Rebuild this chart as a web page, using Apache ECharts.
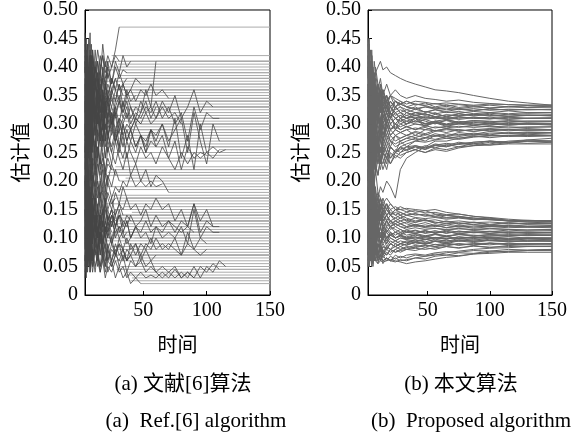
<!DOCTYPE html>
<html>
<head>
<meta charset="utf-8">
<script src="https://cdn.jsdelivr.net/npm/echarts@6/dist/echarts.min.js"></script>
<style>
  html, body { margin: 0; padding: 0; background: #fff; }
  #chart { width: 579px; height: 441px; }
</style>
</head>
<body>
<div id="chart"></div>
<script>
// ---- data ----
var xTicks = [50, 100, 150];

// (a) time grid for the noisy part of each run; after its last value a run stays flat to t=150
var tA = [4,5,6,7,8,9,10,12,14,16,18,20,22,25,28,31,34,37,40,44,48,52,56,60,65,70,75,80,85,90,95,100,105,110,115];

var upperA = [
  [0.38,0.30,0.41,0.33,0.43,0.35,0.39,0.31,0.36,0.40,0.34,0.37,0.35,0.38,0.36],
  [0.25,0.33,0.28,0.36,0.30,0.26,0.34,0.29,0.32,0.27,0.31,0.29,0.33,0.30,0.32,0.29,0.31],
  [0.42,0.35,0.44,0.37,0.32,0.40,0.36,0.43,0.38,0.34,0.39,0.36,0.41,0.37,0.40,0.38,0.395,0.39],
  [0.22,0.30,0.25,0.33,0.27,0.35,0.29,0.24,0.31,0.28,0.34,0.30,0.27,0.32,0.29,0.31,0.28,0.30,0.29,0.31,0.30],
  [0.35,0.28,0.40,0.31,0.37,0.26,0.33,0.38,0.30,0.35,0.29,0.33,0.31,0.36],
  [0.45,0.38,0.42,0.34,0.40,0.44,0.37,0.41,0.35,0.39,0.42,0.38,0.40,0.37,0.41,0.39,0.42,0.40,0.41],
  [0.28,0.36,0.24,0.32,0.27,0.38,0.30,0.26,0.33,0.29,0.35,0.27,0.31,0.28,0.32,0.26,0.30,0.27,0.29,0.26,0.28,0.25,0.27,0.26],
  [0.33,0.41,0.29,0.37,0.31,0.39,0.34,0.28,0.36,0.32,0.38,0.33,0.35,0.31,0.34,0.37,0.33,0.36,0.34,0.35],
  [0.40,0.32,0.36,0.28,0.42,0.34,0.30,0.37,0.33,0.29,0.35,0.31,0.34,0.30,0.33],
  [0.20,0.27,0.23,0.31,0.26,0.22,0.29,0.25,0.32,0.27,0.30,0.24,0.28,0.26,0.29,0.25,0.28,0.24,0.27,0.25,0.28,0.26,0.29,0.27,0.30,0.26,0.31,0.24,0.28,0.22,0.30,0.25,0.26,0.25,0.255],
  [0.37,0.29,0.34,0.40,0.32,0.27,0.35,0.31,0.38,0.33,0.29,0.34,0.31,0.35,0.32,0.34,0.31,0.33,0.30,0.32,0.31,0.33,0.32,0.34,0.31,0.33,0.30,0.32,0.27,0.33,0.29,0.32,0.31,0.31],
  [0.31,0.23,0.28,0.34,0.26,0.30,0.22,0.27,0.24,0.29,0.25,0.21,0.26,0.23,0.27,0.24,0.22,0.25,0.21,0.23,0.20,0.22,0.19,0.21,0.20,0.18],
  [0.43,0.36,0.40,0.45,0.38,0.42,0.35,0.40,0.37,0.42,0.39,0.41,0.38,0.40,0.42,0.41],
  [0.26,0.34,0.30,0.37,0.28,0.33,0.38,0.30,0.35,0.31,0.36,0.32,0.34,0.30,0.33,0.35,0.32,0.34,0.31,0.33,0.32,0.36,0.33,0.41],
  [0.34,0.26,0.31,0.24,0.36,0.29,0.25,0.32,0.28,0.23,0.30,0.26,0.29,0.25,0.28,0.26,0.30,0.27,0.29,0.26,0.28,0.27,0.29,0.28,0.30,0.27,0.29,0.31,0.25,0.32,0.27,0.23,0.30,0.27],
  [0.39,0.45,0.36,0.41,0.46,0.39,0.43,0.37,0.41,0.38,0.44,0.40,0.42,0.40,0.43,0.47],
  [0.24,0.31,0.21,0.28,0.25,0.33,0.27,0.22,0.29,0.26,0.31,0.28,0.25,0.29,0.27,0.30,0.28],
  [0.36,0.30,0.38,0.33,0.29,0.35,0.40,0.34,0.37,0.32,0.36,0.34,0.37,0.35,0.38,0.36,0.37,0.35,0.36,0.38,0.37],
  [0.29,0.37,0.33,0.27,0.35,0.31,0.36,0.28,0.34,0.30,0.27,0.33,0.29,0.32,0.28,0.31,0.30,0.32,0.29,0.31,0.30,0.32,0.30,0.31,0.33,0.31,0.32,0.30],
  [0.41,0.34,0.38,0.32,0.39,0.35,0.31,0.37,0.34,0.38,0.35,0.33,0.36,0.34],
  [0.23,0.29,0.26,0.20,0.27,0.24,0.30,0.22,0.26,0.23,0.28,0.24,0.27,0.25,0.23,0.26,0.24,0.27,0.25,0.23,0.26,0.24,0.25,0.23,0.26,0.24,0.22,0.25,0.23,0.25,0.24,0.25,0.24,0.255],
  [0.32,0.39,0.35,0.30,0.37,0.42,0.36,0.33,0.39,0.35,0.40,0.37,0.34,0.38,0.36,0.39,0.37,0.38],
  [0.21,0.16,0.24,0.19,0.14,0.22,0.18,0.25,0.20,0.17,0.23,0.19,0.21],
  [0.18,0.25,0.20,0.27,0.22,0.18,0.24,0.21,0.26,0.22,0.24,0.21,0.23,0.22],
  [0.19,0.24,0.17,0.22,0.26,0.20,0.23,0.18,0.21,0.24,0.19,0.22,0.20,0.23,0.21],
  [0.23,0.18,0.21,0.15,0.20,0.24,0.19,0.22,0.17,0.20,0.18,0.21,0.19],
  [0.16,0.21,0.25,0.19,0.23,0.17,0.21,0.19,0.24,0.20,0.22,0.18,0.21,0.19,0.22,0.20],
  [0.26,0.20,0.23,0.18,0.22,0.27,0.21,0.19,0.23,0.21,0.25,0.22,0.24,0.22],
  [0.44,0.36,0.31,0.39,0.34,0.41,0.33,0.38,0.30,0.35,0.32,0.37,0.34],
  [0.27,0.35,0.41,0.32,0.38,0.29,0.36,0.40,0.33,0.37,0.31,0.35,0.33,0.36,0.34,0.37,0.35],
  [0.33,0.25,0.30,0.37,0.28,0.34,0.26,0.31,0.36,0.29,0.33,0.27,0.32,0.29,0.33,0.30,0.34,0.31,0.33,0.30,0.32,0.34,0.31,0.33],
  [0.39,0.43,0.35,0.40,0.33,0.37,0.42,0.36,0.39,0.34,0.38,0.35,0.39,0.36,0.38],
  [0.30,0.24,0.35,0.27,0.32,0.25,0.29,0.34,0.27,0.31,0.26,0.30,0.28,0.31,0.27,0.29,0.26,0.29,0.27,0.30,0.28,0.25,0.29,0.26,0.28,0.24,0.27,0.22,0.26,0.24,0.25,0.245],
  [0.36,0.42,0.38,0.33,0.40,0.35,0.43,0.37,0.41,0.36,0.39,0.37,0.40],
  [0.25,0.31,0.22,0.29,0.34,0.26,0.32,0.28,0.24,0.30,0.27,0.32,0.28,0.30,0.27,0.29],
  [0.41,0.35,0.39,0.30,0.36,0.33,0.38,0.32,0.35,0.30,0.34,0.32,0.35,0.33,0.36,0.34,0.37,0.35,0.36,0.34,0.36,0.35,0.37,0.35,0.36,0.345],
  [0.31,0.38,0.34,0.29,0.36,0.32,0.27,0.33,0.30,0.35,0.31,0.34,0.30,0.33,0.31,0.34,0.32,0.35,0.33,0.31,0.34,0.32,0.33,0.31,0.34,0.32,0.35,0.31,0.33,0.36,0.32,0.34,0.33],
  [0.46,0.40,0.44,0.38,0.42,0.37,0.41,0.39,0.43,0.40,0.42,0.39,0.41]
];

var lowerA = [
  [0.10,0.16,0.08,0.13,0.06,0.12,0.09,0.15,0.11,0.07,0.13,0.10,0.12,0.09,0.11],
  [0.14,0.07,0.18,0.11,0.15,0.09,0.13,0.17,0.10,0.14,0.12,0.16,0.13,0.15,0.12,0.14,0.13],
  [0.05,0.12,0.07,0.10,0.04,0.09,0.06,0.11,0.07,0.05,0.09,0.06,0.08,0.05,0.07,0.06,0.08,0.06,0.07],
  [0.18,0.12,0.20,0.14,0.17,0.11,0.16,0.19,0.13,0.17,0.14,0.18,0.15,0.17,0.14,0.16,0.15,0.17,0.15,0.16,0.14,0.16,0.15,0.17,0.15,0.16,0.13,0.15,0.12,0.16,0.13,0.15,0.12,0.12],
  [0.08,0.14,0.05,0.11,0.08,0.13,0.06,0.10,0.07,0.12,0.08,0.05,0.09,0.06,0.08,0.05,0.07,0.04,0.06,0.05,0.07,0.05,0.06,0.04,0.05,0.04,0.05,0.03,0.04,0.03,0.05,0.04,0.055,0.045],
  [0.12,0.06,0.15,0.09,0.13,0.17,0.10,0.14,0.08,0.12,0.09,0.13,0.11,0.14,0.10,0.12,0.11,0.13,0.10,0.12,0.11,0.13,0.11,0.12,0.11,0.13,0.12,0.11,0.12,0.11],
  [0.16,0.10,0.13,0.19,0.12,0.16,0.09,0.14,0.11,0.15,0.12,0.10,0.13,0.11],
  [0.07,0.03,0.09,0.05,0.11,0.06,0.04,0.08,0.05,0.10,0.06,0.08,0.04,0.06,0.03,0.05,0.03,0.04,0.02,0.03,0.02],
  [0.11,0.18,0.13,0.09,0.16,0.12,0.19,0.14,0.10,0.15,0.12,0.17,0.13,0.15,0.12,0.14,0.11,0.13,0.10,0.12],
  [0.20,0.14,0.17,0.22,0.15,0.19,0.13,0.18,0.15,0.20,0.16,0.19,0.17,0.15,0.18,0.16,0.19,0.17],
  [0.09,0.15,0.11,0.06,0.13,0.08,0.12,0.07,0.10,0.13,0.09,0.11,0.08,0.10,0.07,0.09,0.08,0.10,0.08,0.09,0.07,0.09,0.08,0.10,0.08,0.09,0.08,0.07,0.09,0.08,0.07,0.08],
  [0.13,0.08,0.11,0.16,0.10,0.07,0.12,0.09,0.14,0.11,0.08,0.12,0.10,0.13,0.11,0.12,0.10,0.11],
  [0.06,0.10,0.04,0.08,0.12,0.07,0.05,0.09,0.06,0.04,0.07,0.05,0.08,0.06,0.09,0.07,0.08,0.06,0.07,0.05,0.06,0.04,0.05,0.04,0.03,0.04,0.03,0.04,0.03,0.05,0.03,0.05,0.04,0.06,0.05],
  [0.17,0.21,0.15,0.19,0.14,0.18,0.21,0.16,0.19,0.15,0.18,0.16,0.20,0.17,0.19,0.18,0.20,0.19,0.21,0.19,0.20,0.19,0.20,0.19,0.195],
  [0.10,0.05,0.13,0.08,0.11,0.06,0.14,0.09,0.12,0.07,0.10,0.08,0.11,0.09,0.12,0.10,0.11,0.09,0.10,0.12,0.10,0.11,0.09,0.12,0.10,0.11,0.10,0.12,0.09,0.15,0.10,0.12,0.11,0.11],
  [0.15,0.09,0.12,0.07,0.14,0.10,0.16,0.11,0.13,0.09,0.14,0.11,0.13,0.10,0.12,0.14],
  [0.04,0.08,0.06,0.11,0.05,0.09,0.07,0.04,0.08,0.05,0.07,0.04,0.06,0.05,0.07],
  [0.19,0.13,0.16,0.11,0.18,0.14,0.17,0.12,0.15,0.18,0.14,0.16,0.13,0.15,0.14,0.16,0.14],
  [0.13,0.19,0.10,0.16,0.12,0.08,0.14,0.11,0.16,0.12,0.15,0.11,0.14,0.12,0.15],
  [0.06,0.11,0.08,0.13,0.05,0.10,0.07,0.12,0.08,0.11,0.07,0.09,0.06,0.08,0.07,0.09,0.06,0.08,0.07,0.09,0.06,0.08,0.06,0.07],
  [0.17,0.11,0.15,0.09,0.13,0.18,0.12,0.16,0.10,0.14,0.11,0.15,0.12,0.14,0.13],
  [0.09,0.04,0.07,0.12,0.06,0.10,0.05,0.09,0.06,0.11,0.07,0.10,0.06,0.09,0.07,0.10,0.08,0.06,0.09,0.07,0.09,0.08,0.10,0.08,0.09,0.08,0.10,0.07,0.11,0.08,0.10,0.09],
  [0.14,0.20,0.16,0.12,0.18,0.13,0.17,0.11,0.15,0.12,0.16,0.13,0.15,0.12,0.14,0.11,0.13,0.12,0.14,0.12,0.13,0.15,0.12,0.14,0.12,0.13,0.11,0.13,0.12,0.16,0.11,0.13,0.12],
  [0.11,0.07,0.14,0.09,0.12,0.06,0.10,0.13,0.08,0.11,0.09,0.12,0.10],
  [0.20,0.16,0.21,0.15,0.19,0.14,0.18,0.16,0.20,0.17,0.19,0.16,0.18,0.16,0.17],
  [0.03,0.07,0.05,0.09,0.04,0.06,0.08,0.05,0.07,0.04,0.06,0.03,0.05,0.04,0.06,0.04,0.05,0.03,0.04,0.03,0.04,0.03,0.035,0.03,0.04,0.03,0.045,0.03,0.04,0.03],
  [0.15,0.10,0.18,0.12,0.16,0.09,0.13,0.17,0.11,0.14,0.10,0.13,0.11,0.14,0.12,0.15,0.12,0.14,0.13]
];

// (a) runs whose noisy start is lost in the dense band: level and time where the flat part begins
var flatLevelsA = [0.42,0.405,0.395,0.39,0.385,0.38,0.375,0.37,0.365,0.36,0.355,0.35,0.345,0.34,0.335,0.33,0.325,0.32,0.315,0.31,0.305,0.30,0.295,0.29,0.285,0.28,0.275,0.27,0.265,0.26,0.25,0.24,0.235,0.225,0.215,0.205,0.185,0.175,0.17,0.165,0.16,0.155,0.15,0.145,0.14,0.135,0.13,0.125,0.12,0.115,0.11,0.105,0.10,0.095,0.09,0.085,0.08,0.075,0.07,0.065,0.06,0.055,0.05,0.045,0.04,0.035,0.03,0.025];
var flatStartsA = [25,30,22,36,30,41,18,33,26,44,35,27,20,39,28,31,38,45,24,34,32,40,21,29,27,37,30,42,23,33,26,31,34,28,22,36,29,25,38,31,20,35,27,41,33,22,37,28,24,39,30,26,43,21,34,26,30,38,21,33,26,44,32,29,37,35,41,40];

// (b) time grid and runs
var tB = [2,3,4,5,6,7,8,10,12,14,17,20,24,28,33,40,48,56,65,75,87,100,115,130,150];

var upperB = [
  [0.42,0.33,0.38,0.29,0.35,0.31,0.37,0.32,0.29,0.33,0.30,0.32,0.29,0.31,0.30,0.31,0.295,0.305,0.30,0.305,0.30,0.298,0.302,0.30,0.30],
  [0.25,0.34,0.28,0.37,0.31,0.36,0.30,0.34,0.37,0.33,0.35,0.32,0.34,0.33,0.325,0.33,0.32,0.325,0.32,0.322,0.318,0.32,0.323,0.32,0.32],
  [0.31,0.22,0.27,0.20,0.25,0.29,0.23,0.26,0.24,0.27,0.25,0.27,0.26,0.265,0.27,0.275,0.27,0.28,0.275,0.278,0.282,0.28,0.278,0.28,0.28],
  [0.38,0.45,0.36,0.41,0.34,0.39,0.35,0.33,0.36,0.32,0.34,0.31,0.33,0.32,0.31,0.315,0.31,0.312,0.308,0.31,0.312,0.31,0.308,0.31,0.31],
  [0.20,0.28,0.23,0.31,0.26,0.22,0.28,0.25,0.29,0.27,0.30,0.28,0.29,0.285,0.29,0.28,0.29,0.288,0.292,0.29,0.287,0.29,0.29,0.292,0.29],
  [0.35,0.41,0.37,0.43,0.38,0.36,0.40,0.37,0.35,0.36,0.34,0.35,0.345,0.34,0.335,0.34,0.338,0.335,0.337,0.335,0.333,0.335,0.334,0.333,0.333],
  [0.28,0.35,0.27,0.32,0.24,0.29,0.26,0.23,0.26,0.24,0.22,0.25,0.24,0.25,0.255,0.26,0.255,0.262,0.26,0.265,0.268,0.27,0.268,0.27,0.27],
  [0.33,0.26,0.31,0.36,0.29,0.33,0.28,0.31,0.34,0.30,0.32,0.31,0.30,0.31,0.305,0.31,0.30,0.305,0.308,0.303,0.306,0.305,0.303,0.305,0.305],
  [0.43,0.37,0.40,0.35,0.39,0.36,0.33,0.37,0.34,0.36,0.33,0.35,0.33,0.34,0.33,0.325,0.33,0.328,0.325,0.327,0.324,0.326,0.325,0.325,0.326],
  [0.22,0.17,0.24,0.19,0.23,0.26,0.21,0.24,0.22,0.25,0.23,0.26,0.25,0.27,0.26,0.27,0.275,0.28,0.278,0.282,0.28,0.284,0.283,0.285,0.285],
  [0.30,0.37,0.33,0.28,0.35,0.31,0.36,0.32,0.30,0.33,0.31,0.33,0.32,0.31,0.32,0.315,0.318,0.312,0.316,0.314,0.317,0.315,0.313,0.315,0.315],
  [0.37,0.31,0.27,0.33,0.29,0.34,0.30,0.28,0.31,0.29,0.31,0.29,0.30,0.29,0.295,0.29,0.297,0.293,0.296,0.294,0.297,0.295,0.293,0.295,0.295],
  [0.33,0.38,0.35,0.40,0.37,0.41,0.39,0.40,0.41,0.395,0.40,0.39,0.385,0.38,0.375,0.37,0.365,0.36,0.358,0.355,0.35,0.345,0.34,0.337,0.333],
  [0.26,0.19,0.23,0.28,0.21,0.25,0.22,0.27,0.24,0.26,0.25,0.23,0.25,0.245,0.25,0.255,0.25,0.255,0.252,0.258,0.262,0.265,0.27,0.272,0.275],
  [0.45,0.39,0.43,0.37,0.40,0.35,0.38,0.34,0.36,0.33,0.35,0.33,0.32,0.325,0.32,0.315,0.318,0.312,0.31,0.313,0.31,0.312,0.309,0.31,0.31],
  [0.27,0.32,0.25,0.30,0.34,0.28,0.31,0.27,0.30,0.28,0.31,0.29,0.30,0.295,0.30,0.305,0.30,0.302,0.298,0.30,0.303,0.30,0.298,0.30,0.30],
  [0.35,0.29,0.34,0.30,0.37,0.33,0.36,0.34,0.32,0.34,0.33,0.31,0.33,0.32,0.325,0.32,0.322,0.318,0.321,0.319,0.322,0.32,0.318,0.32,0.32],
  [0.24,0.30,0.26,0.33,0.28,0.25,0.30,0.27,0.25,0.28,0.26,0.28,0.27,0.275,0.28,0.285,0.28,0.287,0.29,0.288,0.29,0.292,0.29,0.289,0.29],
  [0.40,0.34,0.38,0.42,0.36,0.39,0.35,0.37,0.35,0.36,0.34,0.35,0.34,0.335,0.34,0.335,0.333,0.336,0.332,0.334,0.331,0.333,0.33,0.332,0.33],
  [0.31,0.26,0.29,0.24,0.28,0.23,0.27,0.25,0.23,0.25,0.24,0.26,0.25,0.26,0.265,0.27,0.268,0.272,0.275,0.273,0.277,0.279,0.28,0.28,0.28],
  [0.29,0.35,0.31,0.36,0.32,0.29,0.33,0.30,0.33,0.31,0.32,0.30,0.31,0.305,0.30,0.31,0.305,0.30,0.307,0.303,0.306,0.304,0.306,0.305,0.305],
  [0.33,0.27,0.24,0.29,0.22,0.26,0.23,0.21,0.24,0.22,0.24,0.23,0.245,0.24,0.25,0.255,0.25,0.258,0.255,0.26,0.262,0.263,0.265,0.265,0.265],
  [0.39,0.44,0.38,0.41,0.37,0.33,0.36,0.34,0.37,0.35,0.33,0.34,0.33,0.335,0.33,0.327,0.33,0.326,0.328,0.325,0.327,0.324,0.326,0.325,0.325],
  [0.19,0.25,0.21,0.27,0.23,0.28,0.25,0.29,0.27,0.30,0.28,0.30,0.29,0.30,0.295,0.30,0.298,0.302,0.299,0.301,0.30,0.298,0.301,0.30,0.30],
  [0.36,0.31,0.35,0.32,0.29,0.34,0.31,0.35,0.32,0.34,0.32,0.33,0.315,0.32,0.315,0.32,0.317,0.313,0.316,0.315,0.317,0.314,0.316,0.315,0.315],
  [0.24,0.29,0.23,0.26,0.21,0.25,0.22,0.26,0.23,0.25,0.24,0.26,0.25,0.255,0.26,0.262,0.258,0.263,0.266,0.264,0.268,0.27,0.268,0.27,0.27],
  [0.41,0.36,0.33,0.38,0.34,0.31,0.35,0.32,0.34,0.31,0.33,0.32,0.31,0.315,0.31,0.312,0.308,0.311,0.309,0.312,0.31,0.309,0.311,0.31,0.31],
  [0.30,0.24,0.28,0.33,0.27,0.31,0.28,0.26,0.29,0.27,0.30,0.28,0.29,0.285,0.29,0.293,0.29,0.295,0.293,0.296,0.294,0.296,0.295,0.294,0.295],
  [0.12,0.17,0.14,0.19,0.16,0.20,0.18,0.17,0.19,0.18,0.20,0.19,0.17,0.22,0.24,0.25,0.26,0.27,0.27,0.275,0.278,0.28,0.28,0.282,0.28],
  [0.44,0.38,0.41,0.35,0.39,0.34,0.37,0.33,0.35,0.32,0.34,0.31,0.33,0.32,0.31,0.32,0.315,0.32,0.312,0.318,0.314,0.317,0.313,0.316,0.314],
  [0.16,0.23,0.19,0.26,0.22,0.27,0.24,0.28,0.25,0.27,0.29,0.27,0.28,0.275,0.28,0.276,0.282,0.278,0.283,0.28,0.284,0.281,0.285,0.283,0.284],
  [0.37,0.32,0.36,0.30,0.34,0.38,0.33,0.36,0.33,0.35,0.34,0.33,0.34,0.335,0.33,0.335,0.332,0.328,0.331,0.327,0.33,0.328,0.33,0.329,0.33],
  [0.28,0.22,0.26,0.31,0.25,0.29,0.24,0.27,0.29,0.26,0.28,0.27,0.265,0.27,0.275,0.272,0.276,0.273,0.278,0.275,0.279,0.276,0.279,0.278,0.279],
  [0.34,0.40,0.33,0.38,0.32,0.36,0.31,0.34,0.31,0.33,0.30,0.32,0.31,0.305,0.31,0.303,0.308,0.302,0.306,0.301,0.304,0.302,0.305,0.303,0.304],
  [0.23,0.28,0.32,0.26,0.30,0.24,0.29,0.26,0.28,0.25,0.27,0.26,0.28,0.27,0.275,0.28,0.276,0.283,0.279,0.285,0.282,0.287,0.284,0.286,0.285],
  [0.40,0.35,0.30,0.35,0.39,0.33,0.37,0.35,0.33,0.35,0.32,0.34,0.325,0.33,0.32,0.326,0.321,0.325,0.322,0.326,0.323,0.327,0.324,0.326,0.325],
  [0.21,0.27,0.22,0.25,0.28,0.23,0.26,0.24,0.27,0.25,0.26,0.24,0.255,0.25,0.26,0.255,0.262,0.258,0.264,0.26,0.266,0.263,0.268,0.266,0.268],
  [0.32,0.27,0.33,0.29,0.35,0.31,0.28,0.32,0.30,0.32,0.29,0.31,0.30,0.31,0.30,0.306,0.301,0.305,0.299,0.303,0.298,0.302,0.299,0.301,0.30],
  [0.45,0.41,0.37,0.42,0.38,0.35,0.39,0.36,0.38,0.35,0.37,0.35,0.36,0.35,0.345,0.35,0.345,0.343,0.34,0.342,0.338,0.336,0.334,0.333,0.333],
  [0.26,0.33,0.29,0.24,0.31,0.27,0.32,0.29,0.31,0.28,0.30,0.29,0.295,0.29,0.296,0.29,0.294,0.288,0.292,0.287,0.291,0.288,0.29,0.289,0.29],
  [0.36,0.29,0.33,0.27,0.31,0.35,0.30,0.33,0.29,0.31,0.30,0.32,0.31,0.315,0.31,0.316,0.311,0.317,0.313,0.318,0.315,0.319,0.316,0.318,0.317],
  [0.18,0.24,0.20,0.17,0.22,0.20,0.23,0.21,0.24,0.23,0.25,0.24,0.25,0.26,0.255,0.262,0.258,0.265,0.262,0.268,0.265,0.27,0.267,0.272,0.27],
  [0.39,0.33,0.37,0.32,0.36,0.30,0.34,0.31,0.33,0.30,0.32,0.30,0.31,0.30,0.305,0.30,0.297,0.302,0.296,0.30,0.297,0.301,0.298,0.30,0.298],
  [0.30,0.36,0.32,0.38,0.34,0.31,0.35,0.33,0.36,0.34,0.35,0.33,0.34,0.335,0.34,0.333,0.337,0.33,0.334,0.329,0.332,0.328,0.331,0.329,0.33],
  [0.24,0.19,0.25,0.21,0.27,0.23,0.28,0.25,0.23,0.26,0.24,0.26,0.25,0.258,0.253,0.26,0.256,0.263,0.26,0.266,0.263,0.268,0.266,0.27,0.268],
  [0.42,0.37,0.34,0.39,0.33,0.37,0.32,0.35,0.33,0.31,0.33,0.31,0.32,0.31,0.315,0.31,0.313,0.309,0.312,0.308,0.311,0.309,0.312,0.31,0.311],
  [0.29,0.34,0.28,0.32,0.26,0.30,0.27,0.31,0.28,0.30,0.27,0.29,0.28,0.285,0.28,0.287,0.283,0.289,0.285,0.29,0.287,0.291,0.288,0.29,0.289]
];

var lowerB = [
  [0.15,0.09,0.13,0.07,0.11,0.08,0.12,0.10,0.08,0.11,0.09,0.11,0.10,0.105,0.10,0.098,0.102,0.10,0.103,0.099,0.101,0.10,0.098,0.10,0.10],
  [0.21,0.15,0.18,0.13,0.17,0.14,0.16,0.13,0.15,0.13,0.14,0.13,0.125,0.13,0.125,0.12,0.123,0.12,0.122,0.119,0.121,0.12,0.122,0.12,0.12],
  [0.07,0.12,0.08,0.10,0.06,0.09,0.07,0.08,0.06,0.075,0.07,0.08,0.075,0.078,0.08,0.082,0.08,0.083,0.085,0.083,0.086,0.084,0.085,0.086,0.085],
  [0.09,0.16,0.11,0.14,0.10,0.13,0.09,0.12,0.10,0.12,0.11,0.12,0.11,0.115,0.11,0.113,0.108,0.111,0.109,0.112,0.11,0.108,0.111,0.11,0.11],
  [0.25,0.18,0.22,0.16,0.20,0.17,0.15,0.17,0.15,0.16,0.14,0.15,0.14,0.145,0.14,0.142,0.14,0.137,0.135,0.136,0.133,0.132,0.13,0.13,0.13],
  [0.11,0.06,0.09,0.12,0.07,0.10,0.08,0.06,0.09,0.07,0.085,0.08,0.09,0.085,0.09,0.093,0.09,0.095,0.092,0.096,0.094,0.096,0.095,0.094,0.095],
  [0.05,0.09,0.06,0.08,0.05,0.07,0.06,0.055,0.07,0.06,0.065,0.06,0.065,0.06,0.062,0.065,0.063,0.068,0.07,0.069,0.072,0.073,0.075,0.075,0.075],
  [0.18,0.12,0.16,0.10,0.14,0.11,0.15,0.12,0.14,0.11,0.13,0.12,0.125,0.12,0.118,0.122,0.118,0.117,0.115,0.117,0.114,0.116,0.115,0.114,0.115],
  [0.13,0.19,0.14,0.17,0.12,0.15,0.11,0.14,0.12,0.10,0.12,0.11,0.105,0.11,0.105,0.108,0.104,0.107,0.103,0.106,0.104,0.106,0.105,0.104,0.105],
  [0.17,0.22,0.16,0.20,0.18,0.15,0.17,0.14,0.16,0.15,0.16,0.15,0.155,0.15,0.152,0.15,0.148,0.15,0.145,0.142,0.138,0.135,0.13,0.128,0.126],
  [0.08,0.13,0.09,0.06,0.10,0.07,0.11,0.08,0.06,0.08,0.07,0.08,0.075,0.08,0.085,0.083,0.087,0.085,0.088,0.09,0.088,0.091,0.09,0.089,0.09],
  [0.22,0.16,0.19,0.14,0.12,0.15,0.11,0.13,0.10,0.12,0.10,0.11,0.10,0.105,0.10,0.102,0.098,0.101,0.099,0.10,0.102,0.10,0.099,0.10,0.10],
  [0.06,0.10,0.07,0.05,0.08,0.06,0.09,0.06,0.07,0.055,0.065,0.06,0.07,0.065,0.07,0.072,0.07,0.074,0.076,0.075,0.078,0.077,0.08,0.079,0.08],
  [0.14,0.10,0.13,0.17,0.12,0.16,0.13,0.15,0.12,0.14,0.13,0.12,0.13,0.125,0.12,0.123,0.12,0.122,0.118,0.121,0.119,0.121,0.12,0.119,0.12],
  [0.10,0.05,0.08,0.11,0.07,0.09,0.06,0.09,0.07,0.085,0.08,0.09,0.085,0.09,0.095,0.093,0.097,0.10,0.098,0.102,0.10,0.104,0.103,0.105,0.105],
  [0.19,0.14,0.17,0.12,0.15,0.11,0.13,0.10,0.12,0.10,0.11,0.10,0.095,0.10,0.097,0.095,0.098,0.094,0.096,0.094,0.097,0.095,0.094,0.096,0.095],
  [0.16,0.12,0.15,0.19,0.14,0.17,0.15,0.16,0.14,0.15,0.14,0.145,0.14,0.135,0.14,0.136,0.134,0.136,0.133,0.135,0.132,0.133,0.13,0.131,0.13],
  [0.07,0.12,0.09,0.13,0.08,0.11,0.09,0.12,0.10,0.11,0.10,0.105,0.11,0.105,0.11,0.108,0.112,0.109,0.111,0.108,0.11,0.112,0.11,0.109,0.11],
  [0.12,0.08,0.11,0.07,0.09,0.06,0.08,0.065,0.07,0.06,0.065,0.06,0.058,0.062,0.06,0.065,0.068,0.07,0.074,0.077,0.08,0.082,0.083,0.085,0.085],
  [0.23,0.18,0.20,0.15,0.18,0.14,0.16,0.13,0.14,0.12,0.13,0.12,0.125,0.12,0.115,0.118,0.115,0.117,0.114,0.116,0.115,0.117,0.115,0.114,0.115],
  [0.05,0.09,0.07,0.11,0.08,0.12,0.09,0.11,0.09,0.10,0.09,0.10,0.095,0.10,0.098,0.10,0.103,0.10,0.102,0.099,0.101,0.10,0.102,0.10,0.10],
  [0.20,0.25,0.19,0.22,0.17,0.20,0.16,0.17,0.15,0.16,0.15,0.14,0.145,0.14,0.135,0.13,0.132,0.128,0.125,0.127,0.123,0.122,0.121,0.12,0.12],
  [0.10,0.14,0.09,0.12,0.08,0.10,0.07,0.09,0.08,0.07,0.08,0.075,0.08,0.085,0.08,0.085,0.088,0.085,0.09,0.088,0.09,0.091,0.089,0.09,0.09],
  [0.13,0.18,0.15,0.12,0.16,0.13,0.17,0.14,0.16,0.14,0.15,0.14,0.135,0.14,0.13,0.135,0.13,0.132,0.128,0.13,0.127,0.128,0.126,0.125,0.125],
  [0.16,0.11,0.08,0.12,0.09,0.13,0.10,0.12,0.09,0.11,0.10,0.11,0.10,0.105,0.102,0.106,0.103,0.107,0.104,0.106,0.105,0.103,0.106,0.105,0.105],
  [0.09,0.06,0.08,0.055,0.07,0.06,0.065,0.055,0.06,0.058,0.06,0.062,0.06,0.058,0.055,0.058,0.06,0.063,0.066,0.068,0.072,0.075,0.077,0.078,0.08],
  [0.30,0.25,0.22,0.26,0.21,0.19,0.22,0.18,0.17,0.16,0.17,0.16,0.15,0.155,0.15,0.145,0.148,0.142,0.14,0.138,0.135,0.132,0.13,0.128,0.128],
  [0.36,0.30,0.26,0.21,0.24,0.19,0.17,0.16,0.17,0.15,0.16,0.14,0.15,0.14,0.145,0.14,0.142,0.138,0.14,0.137,0.135,0.133,0.131,0.13,0.13],
  [0.12,0.17,0.13,0.16,0.11,0.14,0.12,0.15,0.13,0.14,0.12,0.13,0.12,0.125,0.12,0.124,0.119,0.123,0.118,0.121,0.117,0.12,0.118,0.119,0.118],
  [0.08,0.05,0.09,0.07,0.10,0.06,0.09,0.07,0.08,0.065,0.075,0.07,0.08,0.075,0.08,0.078,0.083,0.08,0.085,0.082,0.086,0.083,0.087,0.085,0.086],
  [0.17,0.13,0.19,0.14,0.16,0.12,0.15,0.12,0.14,0.12,0.13,0.115,0.12,0.115,0.11,0.114,0.109,0.113,0.108,0.112,0.109,0.111,0.108,0.11,0.109],
  [0.11,0.07,0.10,0.14,0.09,0.12,0.08,0.11,0.09,0.10,0.085,0.095,0.09,0.095,0.092,0.097,0.093,0.098,0.094,0.099,0.096,0.10,0.097,0.099,0.098],
  [0.24,0.19,0.23,0.17,0.21,0.16,0.19,0.15,0.17,0.14,0.16,0.14,0.15,0.145,0.14,0.143,0.138,0.141,0.136,0.138,0.133,0.135,0.131,0.13,0.129],
  [0.06,0.11,0.08,0.12,0.07,0.10,0.08,0.10,0.08,0.09,0.08,0.09,0.085,0.09,0.088,0.092,0.089,0.094,0.09,0.095,0.092,0.096,0.093,0.095,0.094],
  [0.15,0.20,0.14,0.18,0.13,0.16,0.12,0.14,0.12,0.13,0.11,0.12,0.115,0.11,0.114,0.11,0.113,0.108,0.112,0.107,0.111,0.108,0.11,0.108,0.109],
  [0.09,0.13,0.10,0.07,0.11,0.08,0.10,0.07,0.09,0.075,0.085,0.08,0.085,0.08,0.083,0.087,0.084,0.089,0.086,0.09,0.087,0.091,0.088,0.09,0.089],
  [0.19,0.14,0.17,0.13,0.16,0.12,0.15,0.13,0.15,0.13,0.14,0.13,0.135,0.13,0.133,0.128,0.131,0.126,0.129,0.124,0.127,0.123,0.126,0.124,0.125],
  [0.13,0.08,0.12,0.09,0.13,0.10,0.08,0.11,0.09,0.11,0.095,0.105,0.10,0.104,0.10,0.105,0.101,0.106,0.102,0.107,0.103,0.106,0.104,0.106,0.105],
  [0.07,0.10,0.06,0.09,0.055,0.08,0.06,0.075,0.06,0.07,0.06,0.068,0.063,0.068,0.065,0.07,0.068,0.072,0.07,0.074,0.073,0.077,0.076,0.078,0.078],
  [0.21,0.17,0.14,0.18,0.13,0.16,0.14,0.16,0.13,0.15,0.13,0.14,0.13,0.135,0.13,0.127,0.132,0.126,0.13,0.125,0.128,0.124,0.127,0.125,0.126],
  [0.10,0.15,0.11,0.13,0.09,0.12,0.10,0.12,0.10,0.11,0.10,0.105,0.10,0.103,0.098,0.102,0.097,0.101,0.098,0.102,0.099,0.101,0.098,0.10,0.099],
  [0.16,0.11,0.14,0.10,0.13,0.09,0.12,0.10,0.11,0.09,0.10,0.09,0.095,0.09,0.093,0.089,0.092,0.088,0.091,0.087,0.09,0.088,0.091,0.089,0.09],
  [0.14,0.18,0.13,0.17,0.14,0.16,0.13,0.15,0.14,0.13,0.14,0.125,0.13,0.125,0.128,0.123,0.127,0.122,0.125,0.121,0.124,0.12,0.123,0.121,0.122],
  [0.05,0.08,0.06,0.10,0.07,0.09,0.07,0.09,0.075,0.085,0.08,0.09,0.085,0.09,0.087,0.093,0.09,0.095,0.092,0.097,0.094,0.098,0.096,0.098,0.097],
  [0.27,0.21,0.18,0.22,0.17,0.20,0.16,0.18,0.15,0.17,0.15,0.16,0.15,0.15,0.146,0.148,0.144,0.145,0.141,0.142,0.138,0.136,0.133,0.131,0.13],
  [0.12,0.09,0.13,0.10,0.14,0.11,0.13,0.11,0.12,0.10,0.115,0.105,0.11,0.107,0.112,0.108,0.113,0.109,0.114,0.11,0.113,0.111,0.114,0.112,0.113]
];

// ---- chart ----
var serif = "'Liberation Serif', 'Times New Roman', 'Noto Sans CJK SC', serif";
var darkLine = '#454545';
var flatLine = '#ababab';
var lineB = '#666666';

function pairs(times, vals) {
  var out = [];
  for (var i = 0; i < vals.length && i < times.length; i++) out.push([times[i], vals[i]]);
  return out;
}

function lineSeries(idx, data, color, width) {
  return {
    type: 'line', xAxisIndex: idx, yAxisIndex: idx, data: data,
    showSymbol: false, symbol: 'none', silent: true, animation: false,
    lineStyle: { color: color, width: width }, z: 2
  };
}

var series = [];
var runsA = upperA.concat(lowerA);

// flat tails first so the noisy parts sit on top
runsA.forEach(function(r) {
  var n = Math.min(r.length, tA.length);
  var last = r[n - 1];
  series.push(lineSeries(0, [[tA[n - 1], last], [150, last]], flatLine, 1));
});
flatLevelsA.forEach(function(v, i) {
  series.push(lineSeries(0, [[flatStartsA[i], v], [150, v]], flatLine, 1));
});
runsA.forEach(function(r) {
  series.push(lineSeries(0, pairs(tA, r), darkLine, 0.8));
});
upperB.concat(lowerB).forEach(function(r) {
  series.push(lineSeries(1, pairs(tB, r), lineB, 1));
});

function xAxisCfg(idx, min) {
  return {
    type: 'value', gridIndex: idx, min: min, max: 150,
    name: '时间', nameLocation: 'middle', nameGap: 42,
    nameTextStyle: { color: '#000', fontSize: 20, fontFamily: serif },
    axisLine: { show: true, lineStyle: { color: '#000', width: 1 } },
    axisTick: { show: true, inside: true, length: 4, customValues: xTicks, lineStyle: { color: '#000' } },
    axisLabel: { color: '#000', fontSize: 20, fontFamily: serif, margin: 6, customValues: xTicks },
    splitLine: { show: false }
  };
}

function yAxisCfg(idx, gap) {
  return {
    type: 'value', gridIndex: idx, min: 0, max: 0.5, interval: 0.05,
    name: '估计值', nameLocation: 'middle', nameGap: gap,
    nameTextStyle: { color: '#000', fontSize: 20, fontFamily: serif },
    axisLine: { show: true, lineStyle: { color: '#000', width: 1 } },
    axisTick: { show: true, inside: true, length: 4, lineStyle: { color: '#000' } },
    axisLabel: {
      color: '#000', fontSize: 20, fontFamily: serif, margin: 7,
      formatter: function(v) { return v === 0 ? '0' : v.toFixed(2); }
    },
    splitLine: { show: false }
  };
}

function caption(text, x, y) {
  return {
    type: 'text', x: x, y: y, silent: true,
    style: { text: text, fill: '#000', font: '21px ' + serif, textAlign: 'center', textVerticalAlign: 'middle' }
  };
}

var chart = echarts.init(document.getElementById('chart'));
chart.setOption({
  animation: false,
  backgroundColor: '#fff',
  grid: [
    { left: 85, top: 7, width: 185, height: 288, show: true, borderColor: '#000', borderWidth: 1, backgroundColor: 'transparent' },
    { left: 368, top: 7, width: 184, height: 288, show: true, borderColor: '#000', borderWidth: 1, backgroundColor: 'transparent' }
  ],
  xAxis: [xAxisCfg(0, 4), xAxisCfg(1, 2)],
  yAxis: [yAxisCfg(0, 52), yAxisCfg(1, 55)],
  series: series,
  graphic: [
    caption('(a) 文献[6]算法', 183, 384),
    caption('(a)  Ref.[6] algorithm', 196, 421),
    caption('(b) 本文算法', 461, 384),
    caption('(b)  Proposed algorithm', 471, 421)
  ]
});
</script>
</body>
</html>
